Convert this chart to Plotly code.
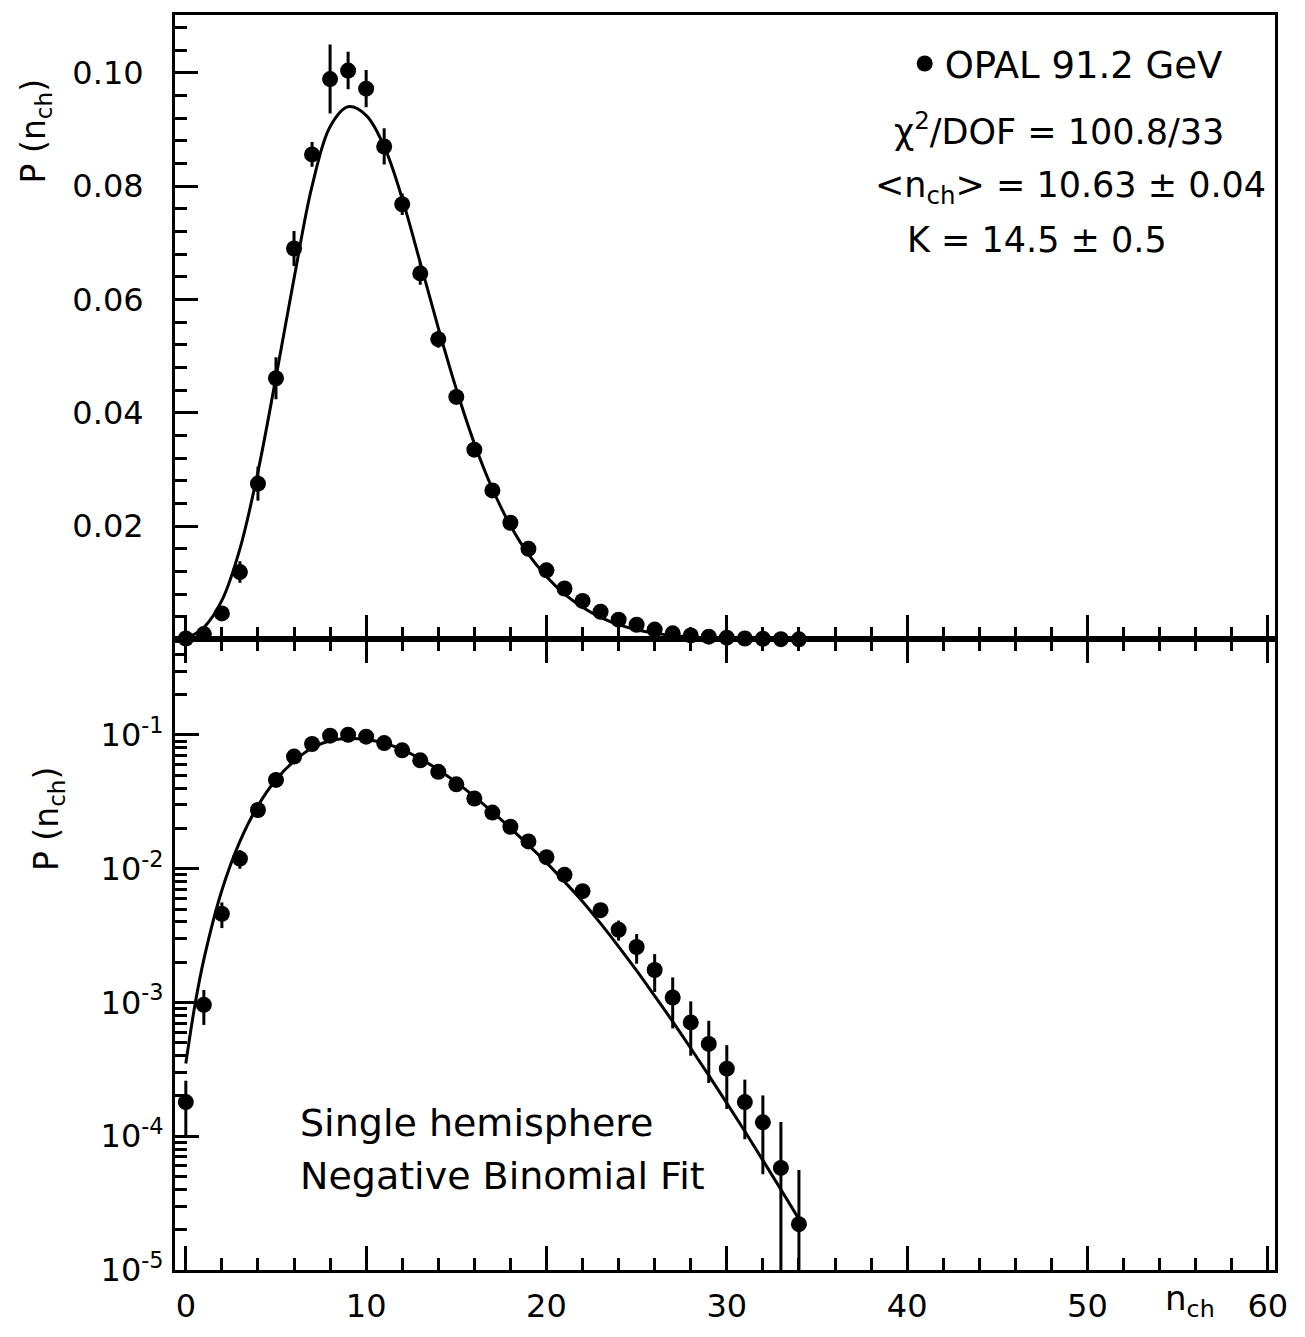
import plotly.graph_objects as go

# ---------------- data ----------------
n_data = list(range(0, 35))
p_data = [1.8e-4, 9.6e-4, 4.6e-3, 0.0119, 0.0275, 0.0461, 0.0690, 0.0856, 0.0989, 0.1004,
          0.0972, 0.0870, 0.0768, 0.0646, 0.0530, 0.0428, 0.0335, 0.0263, 0.0206, 0.0160,
          0.0122, 0.0090, 0.0068, 0.0049, 0.0035, 0.0026, 1.75e-3, 1.09e-3, 7.1e-4, 4.9e-4,
          3.2e-4, 1.8e-4, 1.27e-4, 5.8e-5, 2.2e-5]
p_err = [8e-5, 2.8e-4, 1.0e-3, 0.0019, 0.0030, 0.0037, 0.0031, 0.0022, 0.0061, 0.0033,
         0.0033, 0.0032, 0.0019, 0.0020, 0.0015, 0.0012, 0.0010, 0.0009, 0.0008, 0.0007,
         0.0006, 0.0006, 0.0006, 0.0006, 0.0006, 6.5e-4, 5.5e-4, 4.5e-4, 3.1e-4, 2.4e-4,
         1.6e-4, 8.5e-5, 7.5e-5, 7.0e-5, 3.4e-5]

n_fit = [0, 0.5, 1, 2, 3, 4, 5, 6, 7, 8, 9, 10, 11, 12, 13, 14, 15, 16, 17, 18, 19,
         20, 21, 22, 23, 24, 25, 26, 27, 28, 29, 30, 31, 32, 33, 34]
p_fit = [3.5e-4, 9.5e-4, 2.1e-3, 6.9e-3, 0.0160, 0.0296, 0.0463, 0.0637, 0.0800, 0.0905,
         0.0940, 0.0925, 0.0870, 0.0778, 0.0665, 0.0550, 0.0442, 0.0346, 0.0266, 0.0201,
         0.0150, 0.0111, 8.0e-3, 5.7e-3, 3.9e-3, 2.62e-3, 1.73e-3, 1.12e-3, 7.2e-4,
         4.55e-4, 2.85e-4, 1.77e-4, 1.09e-4, 6.6e-5, 4.0e-5, 2.4e-5]

x_ticks = [0, 10, 20, 30, 40, 50, 60]
top_y_ticks = [0.02, 0.04, 0.06, 0.08, 0.10]
top_y_labels = ["0.02", "0.04", "0.06", "0.08", "0.10"]
log_ticks = [1e-5, 1e-4, 1e-3, 1e-2, 1e-1]
log_labels = ["10<sup>-5</sup>", "10<sup>-4</sup>", "10<sup>-3</sup>",
              "10<sup>-2</sup>", "10<sup>-1</sup>"]

FONT = "DejaVu Sans"
BLACK = "black"

fig = go.Figure()

# top panel (linear)
fig.add_trace(go.Scatter(x=n_fit, y=p_fit, mode="lines", line=dict(color=BLACK, width=3, shape="spline"),
                         xaxis="x", yaxis="y", showlegend=False, hoverinfo="skip"))
fig.add_trace(go.Scatter(x=n_data, y=p_data, mode="markers", name="OPAL 91.2 GeV",
                         marker=dict(color=BLACK, size=16),
                         error_y=dict(type="data", array=p_err, color=BLACK, thickness=3, width=0),
                         xaxis="x", yaxis="y", cliponaxis=False, showlegend=True))

# bottom panel (log)
fig.add_trace(go.Scatter(x=n_fit, y=p_fit, mode="lines", line=dict(color=BLACK, width=3, shape="spline"),
                         xaxis="x2", yaxis="y2", showlegend=False, hoverinfo="skip"))
fig.add_trace(go.Scatter(x=n_data, y=p_data, mode="markers",
                         marker=dict(color=BLACK, size=16),
                         error_y=dict(type="data", array=p_err, color=BLACK, thickness=3, width=0),
                         xaxis="x2", yaxis="y2", showlegend=False))

split = 0.5024
xr = [-0.6, 60.4]
common_x = dict(range=xr, showgrid=False, zeroline=False, showline=True, linecolor=BLACK, linewidth=3,
                ticks="inside", ticklen=24, tickwidth=3, tickcolor=BLACK,
                tickmode="array", tickvals=x_ticks,
                minor=dict(ticks="inside", ticklen=12, tickwidth=3, tickcolor=BLACK,
                           tickmode="linear", tick0=0, dtick=2))

fig.update_layout(
    width=1305, height=1337,
    margin=dict(l=175, r=30, t=14, b=65),
    plot_bgcolor="white", paper_bgcolor="white",
    font=dict(family=FONT, color=BLACK, size=32),
    xaxis=dict(**common_x, anchor="y", domain=[0, 1], showticklabels=False, mirror=True),
    xaxis2=dict(**common_x, anchor="y2", domain=[0, 1], mirror="ticks",
                ticktext=[str(v) for v in x_ticks],
                tickfont=dict(family=FONT, size=32, color=BLACK), ticklabelstandoff=6),
    yaxis=dict(domain=[split, 1], range=[0, 0.1102], showgrid=False, zeroline=False,
               showline=True, linecolor=BLACK, linewidth=3, mirror=True,
               ticks="inside", ticklen=23, tickwidth=3, tickcolor=BLACK,
               tickmode="array", tickvals=top_y_ticks, ticktext=top_y_labels,
               tickfont=dict(family=FONT, size=32, color=BLACK), ticklabelstandoff=22,
               minor=dict(ticks="inside", ticklen=12, tickwidth=3, tickcolor=BLACK,
                          tickmode="linear", tick0=0, dtick=0.004)),
    yaxis2=dict(type="log", domain=[0, split], range=[-5, -0.286], showgrid=False, zeroline=False,
                showline=True, linecolor=BLACK, linewidth=3, mirror=True,
                ticks="inside", ticklen=24, tickwidth=3, tickcolor=BLACK,
                tickmode="array", tickvals=log_ticks, ticktext=log_labels,
                tickfont=dict(family=FONT, size=32, color=BLACK), ticklabelstandoff=2,
                minor=dict(ticks="inside", ticklen=12, tickwidth=3, tickcolor=BLACK, dtick="D1")),
    legend=dict(x=0.957, y=0.961, xanchor="right", yanchor="middle",
                font=dict(family=FONT, size=37, color=BLACK), bgcolor="rgba(0,0,0,0)"),
)

ann_font = dict(family=FONT, size=35, color=BLACK)
annots = [
    dict(text="χ<sup>2</sup>/DOF = 100.8/33", x=0.6518, y=0.9094, xanchor="left", yanchor="middle", font=ann_font),
    dict(text="&lt;n<sub>ch</sub>&gt; = 10.63 ± 0.04", x=0.6345, y=0.8625, xanchor="left", yanchor="middle", font=ann_font),
    dict(text="K = 14.5 ± 0.5", x=0.6636, y=0.8204, xanchor="left", yanchor="middle", font=ann_font),
    dict(text="Single hemisphere", x=0.1118, y=0.1169, xanchor="left", yanchor="middle",
         font=dict(family=FONT, size=38, color=BLACK)),
    dict(text="Negative Binomial Fit", x=0.1118, y=0.0747, xanchor="left", yanchor="middle",
         font=dict(family=FONT, size=38, color=BLACK)),
    dict(text="n<sub>ch</sub>", x=0.898, y=-0.0246, xanchor="left", yanchor="middle",
         font=dict(family=FONT, size=34, color=BLACK)),
    dict(text="P (n<sub>ch</sub>)", x=-0.127, y=0.9075, xanchor="center", yanchor="middle", textangle=-90,
         font=dict(family=FONT, size=33, color=BLACK)),
    dict(text="P (n<sub>ch</sub>)", x=-0.1155, y=0.3593, xanchor="center", yanchor="middle", textangle=-90,
         font=dict(family=FONT, size=33, color=BLACK)),
]
for a in annots:
    fig.add_annotation(xref="paper", yref="paper", showarrow=False, **a)

fig.write_html("out.html")
